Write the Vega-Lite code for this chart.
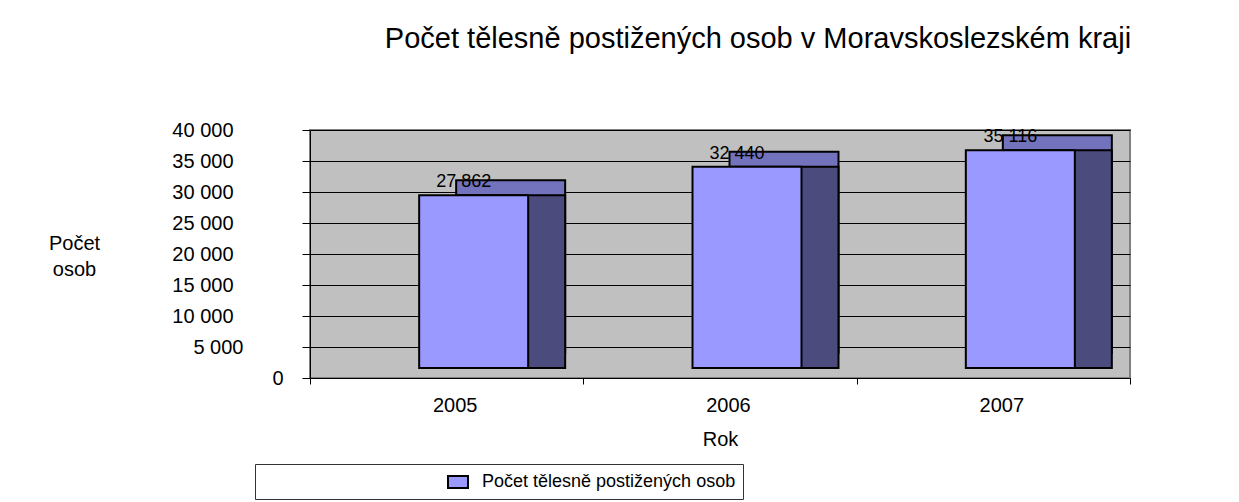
{
  "$schema": "https://vega.github.io/schema/vega-lite/v6.json",
  "autosize": {"type": "none"},
  "width": 820,
  "height": 248,
  "padding": {"left": 310, "top": 130, "right": 109, "bottom": 124},
  "background": "white",
  "config": {
    "font": "Liberation Sans",
    "locale": {"number": {"decimal": ",", "thousands": " ", "grouping": [3], "currency": ["", " Kč"]}},
    "view": {"fill": "#C0C0C0", "stroke": "#808080", "strokeWidth": 2}
  },
  "title": {
    "text": "Počet tělesně postižených osob  v Moravskoslezském kraji",
    "fontSize": 29,
    "fontWeight": "normal",
    "font": "Liberation Sans",
    "color": "black",
    "anchor": "middle",
    "baseline": "alphabetic",
    "dx": 38,
    "offset": 43
  },
  "data": {
    "values": [
      {"rok": "2005", "pocet": 27862},
      {"rok": "2006", "pocet": 32440},
      {"rok": "2007", "pocet": 35116}
    ]
  },
  "encoding": {
    "x": {
      "field": "rok",
      "type": "ordinal",
      "scale": {"paddingInner": 0, "paddingOuter": 0},
      "axis": {
        "title": "Rok",
        "labelAngle": 0,
        "tickBand": "extent",
        "tickSize": 6,
        "tickColor": "black",
        "domainColor": "black",
        "labelColor": "black",
        "labelFontSize": 20,
        "labelPadding": 11,
        "labelOffset": 8,
        "titleFontSize": 20,
        "titleFontWeight": "normal",
        "titleColor": "black",
        "titlePadding": 14,
        "grid": false
      }
    },
    "y": {
      "field": "pocet",
      "type": "quantitative",
      "scale": {"domain": [0, 40000], "nice": false},
      "axis": {
        "title": ["Počet", "osob"],
        "titleAngle": 0,
        "titleX": -236,
        "titleY": 103,
        "titleAlign": "center",
        "titleBaseline": "top",
        "titleFontSize": 20,
        "titleFontWeight": "normal",
        "titleColor": "black",
        "titleLineHeight": 26,
        "values": [0, 5000, 10000, 15000, 20000, 25000, 30000, 35000, 40000],
        "labelExpr": "replace(format(datum.value, ',d'), ',', ' ')",
        "labelFontSize": 20,
        "labelColor": "black",
        "labelPadding": {"condition": [{"test": "datum.value == 0", "value": 19}, {"test": "datum.value == 5000", "value": 59}], "value": 69},
        "tickSize": 8,
        "tickColor": "black",
        "domainColor": "black",
        "gridColor": "black",
        "gridOpacity": 1,
        "gridWidth": 1
      }
    }
  },
  "layer": [
    {
      "mark": {"type": "bar", "fill": "#7373BD", "stroke": "black", "strokeWidth": 2, "size": 109, "xOffset": 64, "yOffset": -25, "y2Offset": -25}
    },
    {
      "mark": {"type": "bar", "fill": "#4B4B7E", "stroke": "black", "strokeWidth": 2, "size": 109, "xOffset": 64, "yOffset": -10, "y2Offset": -23}
    },
    {
      "mark": {"type": "bar", "stroke": "black", "strokeWidth": 2, "size": 109, "xOffset": 27, "yOffset": -10, "y2Offset": -10},
      "encoding": {
        "color": {
          "datum": "Počet tělesně postižených osob",
          "type": "nominal",
          "scale": {"range": ["#9999FF"]},
          "legend": {
            "orient": "none",
            "legendX": -55,
            "legendY": 334,
            "title": null,
            "fillColor": "white",
            "strokeColor": "#333333",
            "padding": 7,
            "symbolOffset": 185,
            "symbolType": "M-1,-0.6H1V0.6H-1Z",
            "symbolSize": 400,
            "symbolStrokeColor": "black",
            "symbolStrokeWidth": 2,
            "symbolFillColor": "#9999FF",
            "labelFontSize": 18,
            "labelLimit": 500,
            "labelColor": "black",
            "labelOffset": 13
          }
        }
      }
    },
    {
      "mark": {"type": "text", "fontSize": 18, "color": "black", "baseline": "alphabetic", "dx": 17, "dy": -18},
      "encoding": {
        "text": {"field": "pocet", "type": "quantitative", "format": ","}
      }
    }
  ]
}
